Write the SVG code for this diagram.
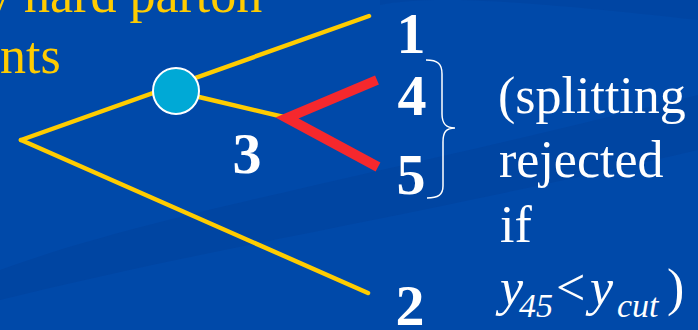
<svg xmlns="http://www.w3.org/2000/svg" width="698" height="330" viewBox="0 0 698 330">
<defs>
<style>
.yl{fill:none;stroke:#FFCC00;stroke-width:4.5;stroke-linecap:round}
.rd{fill:none;stroke:#F5282D;stroke-width:10;stroke-linecap:butt;stroke-linejoin:miter}
.num{font-family:"Liberation Serif","Times New Roman",serif;font-weight:bold;font-size:58px;fill:#FFFFFF;text-anchor:middle}
.txt{font-family:"Liberation Serif","Times New Roman",serif;font-size:52px;fill:#FFFFFF}
.ytx{font-family:"Liberation Serif","Times New Roman",serif;font-size:52px;fill:#FFCC00}
.it{font-style:italic}
.sub{font-size:34px}
</style>
</defs>
<rect x="0" y="0" width="698" height="330" fill="#0049A9"/>
<path d="M0,270 C150,215 380,175 698,95 L698,150 C420,215 200,250 0,300 Z" fill="#00409A" opacity="0.45"/>
<path d="M380,5 C430,-5 520,0 698,20 L698,0 L380,0 Z" fill="#003F97" opacity="0.35"/>
<g id="top-text">
<text class="ytx" x="-15" y="12">y hard parton</text>
<text class="ytx" x="0" y="73">nts</text>
</g>
<g id="connectors">
<line class="yl" x1="21" y1="140" x2="369" y2="16"/>
<line class="yl" x1="21" y1="140" x2="368" y2="293"/>
<line class="yl" x1="199" y1="97" x2="288" y2="118"/>
<polyline class="rd" points="377,80 287,118 378,167"/>
</g>
<g id="node-blob">
<circle cx="176" cy="91" r="23" fill="#00A9D6" stroke="#FFFFFF" stroke-width="2"/>
</g>
<g id="label-1"><text class="num" x="411" y="53">1</text></g>
<g id="label-4"><text class="num" x="412" y="115">4</text></g>
<g id="label-5"><text class="num" x="411" y="194">5</text></g>
<g id="label-3"><text class="num" x="247" y="173">3</text></g>
<g id="label-2"><text class="num" x="410" y="325">2</text></g>
<g id="brace">
<path d="M426,60 C438,60 442,64 442,74 L442,114 C442,124 446,128 455,128 C446,128 443,132 443,142 L443,186 C443,195 438,198 427,198" fill="none" stroke="#FFFFFF" stroke-width="1.5"/>
</g>
<g id="note">
<text class="txt" x="498" y="113">(splitting</text>
<text class="txt" x="499" y="177">rejected</text>
<text class="txt" x="500" y="242">if</text>
<text class="txt it" x="500" y="305">y</text>
<text class="txt it sub" x="519" y="317">45</text>
<text class="txt" x="556" y="305">&lt;</text>
<text class="txt it" x="590" y="305">y</text>
<text class="txt it sub" x="617" y="317">cut</text>
<text class="txt" x="667" y="305">)</text>
</g>
</svg>
